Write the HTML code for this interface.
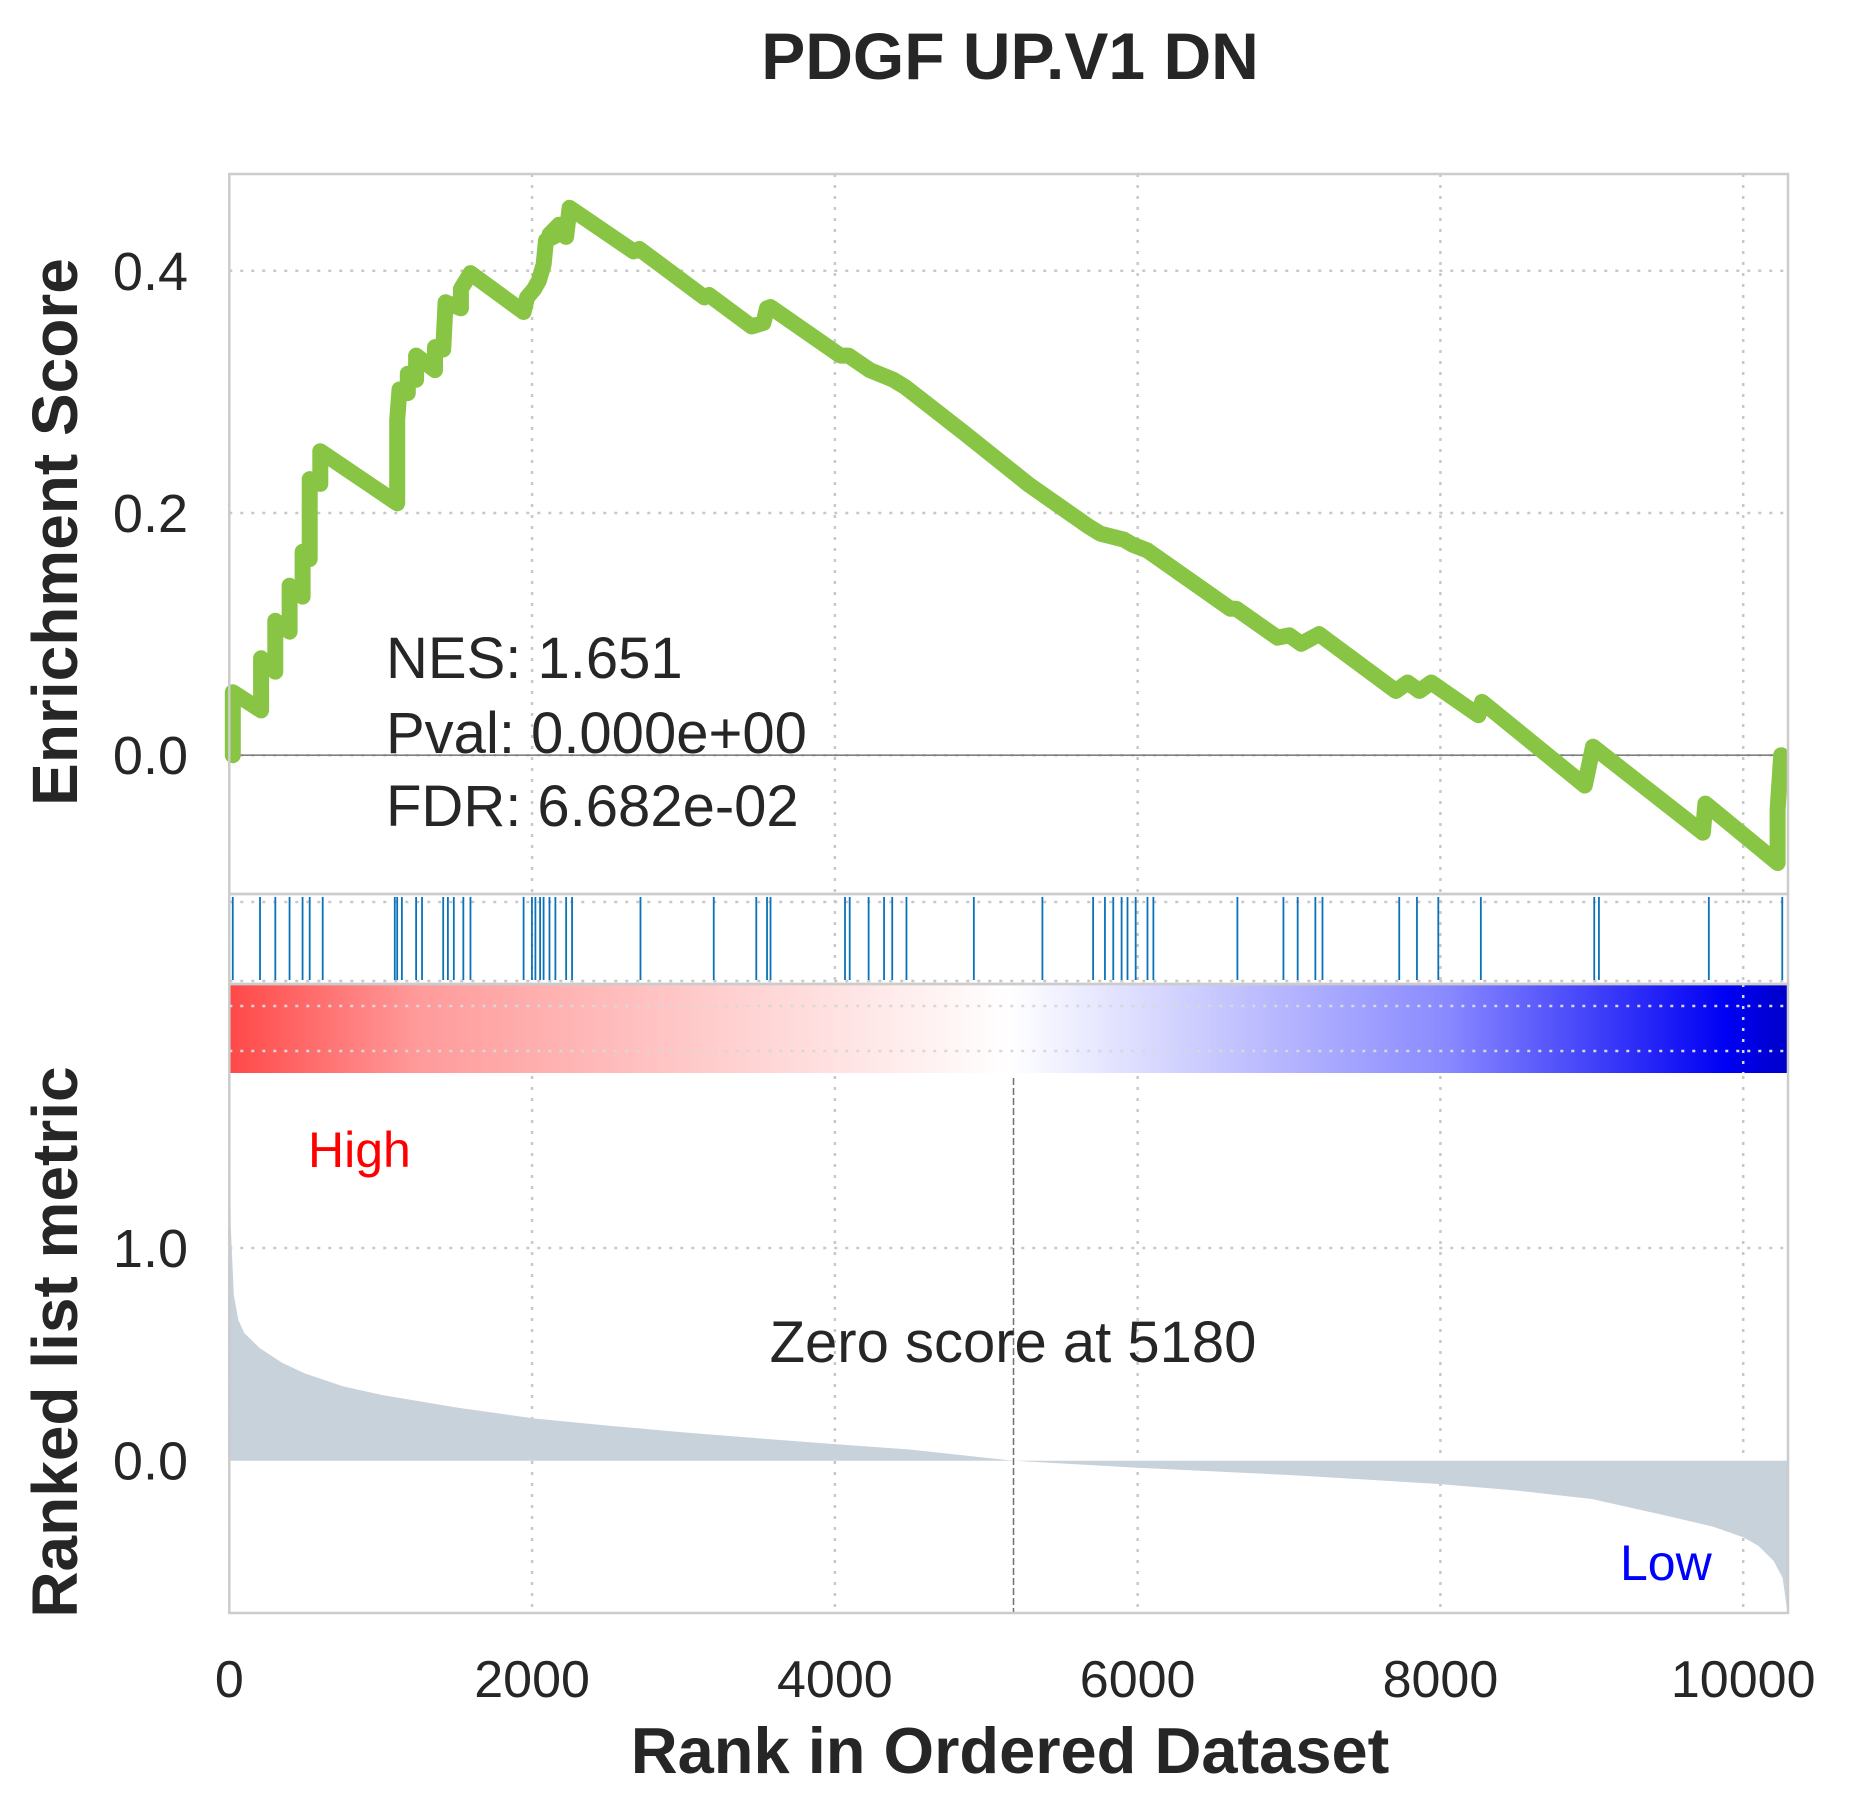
<!DOCTYPE html>
<html><head><meta charset="utf-8"><style>
html,body{margin:0;padding:0;background:#fff}
svg{display:block;font-family:"Liberation Sans",sans-serif}
</style></head><body>
<svg id="chart" width="1853" height="1816" viewBox="0 0 1853 1816">
<defs>
<linearGradient id="cg" x1="0" x2="1" y1="0" y2="0">
<stop offset="0" stop-color="#ff4848"/>
<stop offset="0.12" stop-color="#ff9a9a"/>
<stop offset="0.5" stop-color="#ffffff"/>
<stop offset="0.78" stop-color="#8a8aff"/>
<stop offset="0.96" stop-color="#0000f4"/>
<stop offset="1" stop-color="#0000c8"/>
</linearGradient>
</defs>
<text x="1010" y="79" text-anchor="middle" font-size="66" font-weight="bold" fill="#262626">PDGF UP.V1 DN</text>
<g id="grid"></g>
<g id="marks"></g>
<g id="frames"></g>
<g id="labels"></g>
</svg>
<script>
// ---- data ----
const xTicks = [0, 2000, 4000, 6000, 8000, 10000];
const esTicks = [0.0, 0.2, 0.4];
const metricTicks = [0.0, 1.0];
const hitRanks = [23,203,304,398,484,531,617,1093,1109,1140,1234,1273,1413,1444,1483,1546,1593,1944,1999,2022,2053,2076,2115,2154,2225,2264,2716,3200,3481,3552,3575,4067,4098,4223,4325,4379,4473,4918,5371,5706,5784,5839,5894,5933,5987,6065,6104,6659,6963,7057,7174,7221,7728,7845,7986,8267,9016,9047,9773,10258];
const esRanks = [23,23,210,210,304,304,398,398,484,484,531,531,601,601,1109,1109,1124,1179,1179,1234,1234,1359,1359,1413,1429,1530,1530,1593,1944,1967,2014,2045,2076,2092,2154,2115,2178,2225,2248,2670,2709,3138,3169,3450,3528,3552,3575,4036,4091,4231,4387,4465,4855,5285,5675,5753,5909,5964,6065,6612,6651,6924,7002,7080,7198,7705,7783,7861,7939,8251,8275,8954,9008,9734,9750,10227,10227,10251];
const esVals = [0.0,0.052,0.037,0.080,0.069,0.111,0.102,0.140,0.131,0.168,0.162,0.228,0.224,0.251,0.208,0.277,0.302,0.299,0.315,0.310,0.330,0.318,0.337,0.335,0.374,0.369,0.385,0.398,0.366,0.378,0.385,0.392,0.405,0.425,0.429,0.430,0.438,0.428,0.452,0.416,0.418,0.378,0.380,0.354,0.357,0.369,0.370,0.330,0.330,0.318,0.310,0.304,0.266,0.223,0.189,0.183,0.178,0.174,0.169,0.121,0.121,0.097,0.099,0.092,0.100,0.053,0.060,0.053,0.060,0.033,0.044,-0.025,0.007,-0.064,-0.040,-0.089,-0.045,0.0];
const metricRanks = [0,10,30,60,100,200,350,500,750,1000,1500,2000,2500,3000,3500,4000,4500,5180,6000,7000,8000,8500,9000,9500,9800,10000,10100,10200,10260,10290];
const metricVals = [1.72,1.1,0.78,0.66,0.6,0.53,0.46,0.41,0.35,0.31,0.25,0.2,0.165,0.133,0.105,0.078,0.052,0.0,-0.033,-0.067,-0.11,-0.14,-0.18,-0.26,-0.31,-0.36,-0.40,-0.47,-0.55,-0.7];
const zeroRank = 5180;
const xMax = 10290;

// ---- scales ----
const L = 229.3, R = 1788;
const sx = r => L + r * 0.15139;
const esY = v => 755.2 - v * 1211;
const mY = v => 1460.7 - v * 212.7;
const NS = "http://www.w3.org/2000/svg";
function mk(tag, attrs, parent, text){
  const e = document.createElementNS(NS, tag);
  for (const k in attrs) e.setAttribute(k, attrs[k]);
  if (text !== undefined) e.textContent = text;
  document.getElementById(parent).appendChild(e);
  return e;
}
const GRID = "#c8c8c8";
const TOP = 174, ESB = 894, STB = 984, CBB = 1073, BOT = 1613;

xTicks.forEach(t => {
  const g = mk('line', {x1:sx(t), x2:sx(t), y1:TOP, y2:BOT, stroke:GRID, 'stroke-width':2.5, 'stroke-dasharray':'3,8'}, 'grid');
  
  
});
esTicks.forEach(t => {
  const g = mk('line', {x1:L, x2:R, y1:esY(t), y2:esY(t), stroke:GRID, 'stroke-width':2.5, 'stroke-dasharray':'3,8'}, 'grid');
  
  
});
[902, 981].forEach(y => {
  const g = mk('line', {x1:L, x2:R, y1:y, y2:y, stroke:GRID, 'stroke-width':2.5, 'stroke-dasharray':'3,8'}, 'grid');
  
  
});
metricTicks.forEach(t => {
  if (t === 0) return;
  const g = mk('line', {x1:L, x2:R, y1:mY(t), y2:mY(t), stroke:GRID, 'stroke-width':2.5, 'stroke-dasharray':'3,8'}, 'grid');
  
  
});

const zl = mk('line', {x1:L, x2:R, y1:esY(0), y2:esY(0), stroke:'#808080', 'stroke-width':1.6}, 'marks');



let d = '';
esRanks.forEach((r, i) => { d += (i ? 'L' : 'M') + sx(r).toFixed(1) + ',' + esY(esVals[i]).toFixed(1); });
const es = mk('path', {d:d, fill:'none', stroke:'#88c544', 'stroke-width':16, 'stroke-linejoin':'round', 'stroke-linecap':'round'}, 'marks');



hitRanks.forEach(r => {
  const h = mk('line', {x1:sx(r), x2:sx(r), y1:897, y2:980, stroke:'#0a72b8', 'stroke-width':1.8}, 'marks');
  
  
});

const cb = mk('rect', {x:L, y:STB+1, width:R-L, height:CBB-STB-1, fill:'url(#cg)'}, 'marks');


[1006, 1051].forEach(y => {
  const g = mk('line', {x1:L, x2:R, y1:y, y2:y, stroke:'#d8d8d8', 'stroke-width':2.5, 'stroke-dasharray':'3,8'}, 'marks');
  
  
});
const cv = mk('line', {x1:sx(10000), x2:sx(10000), y1:STB, y2:CBB, stroke:'#d8d8d8', 'stroke-width':2.5, 'stroke-dasharray':'3,8'}, 'marks');



let a = 'M' + sx(0) + ',' + mY(0);
metricRanks.forEach((r, i) => { a += 'L' + sx(r).toFixed(1) + ',' + mY(metricVals[i]).toFixed(1); });
a += 'L' + sx(xMax) + ',' + mY(0) + 'Z';
const ar = mk('path', {d:a, fill:'#c8d2da'}, 'marks');


const zd = mk('line', {x1:sx(zeroRank), x2:sx(zeroRank), y1:1078, y2:BOT, stroke:'#707070', 'stroke-width':1.5, 'stroke-dasharray':'7,3'}, 'marks');



[[TOP, ESB], [ESB, STB], [STB, BOT]].forEach(([t, b]) => {
  const f = mk('rect', {x:L, y:t, width:R-L, height:b-t, fill:'none', stroke:'#cccccc', 'stroke-width':2.5}, 'frames');
  
  
});

xTicks.forEach(t => {
  const l = mk('text', {x:sx(t), y:1697, 'text-anchor':'middle', 'font-size':52, fill:'#262626'}, 'labels', String(t));
  
  
});
esTicks.forEach(t => {
  const l = mk('text', {x:188, y:esY(t)+19, 'text-anchor':'end', 'font-size':54, fill:'#262626'}, 'labels', t.toFixed(1));
  
  
});
metricTicks.forEach(t => {
  const l = mk('text', {x:188, y:mY(t)+19, 'text-anchor':'end', 'font-size':54, fill:'#262626'}, 'labels', t.toFixed(1));
  
  
});
</script>
<div style="position:absolute;left:0;top:0;width:1853px;height:1816px;pointer-events:none">
<svg width="1853" height="1816" style="font-family:'Liberation Sans',sans-serif">
<text x="1010" y="1773" text-anchor="middle" font-size="65" font-weight="bold" fill="#262626">Rank in Ordered Dataset</text>
<text transform="translate(77,532) rotate(-90)" text-anchor="middle" font-size="64" font-weight="bold" fill="#262626">Enrichment Score</text>
<text transform="translate(77,1342) rotate(-90)" text-anchor="middle" font-size="64" font-weight="bold" fill="#262626">Ranked list metric</text>
<text x="386" y="678" font-size="58" fill="#262626">NES: 1.651</text>
<text x="386" y="753" font-size="58" fill="#262626">Pval: 0.000e+00</text>
<text x="386" y="826" font-size="58" fill="#262626">FDR: 6.682e-02</text>
<text x="308" y="1167" font-size="50" fill="#ff0000">High</text>
<text x="1620" y="1580" font-size="50" fill="#0000ff">Low</text>
<text x="1013" y="1362" text-anchor="middle" font-size="58" fill="#262626">Zero score at 5180</text>
</svg>
</div>
</body></html>
